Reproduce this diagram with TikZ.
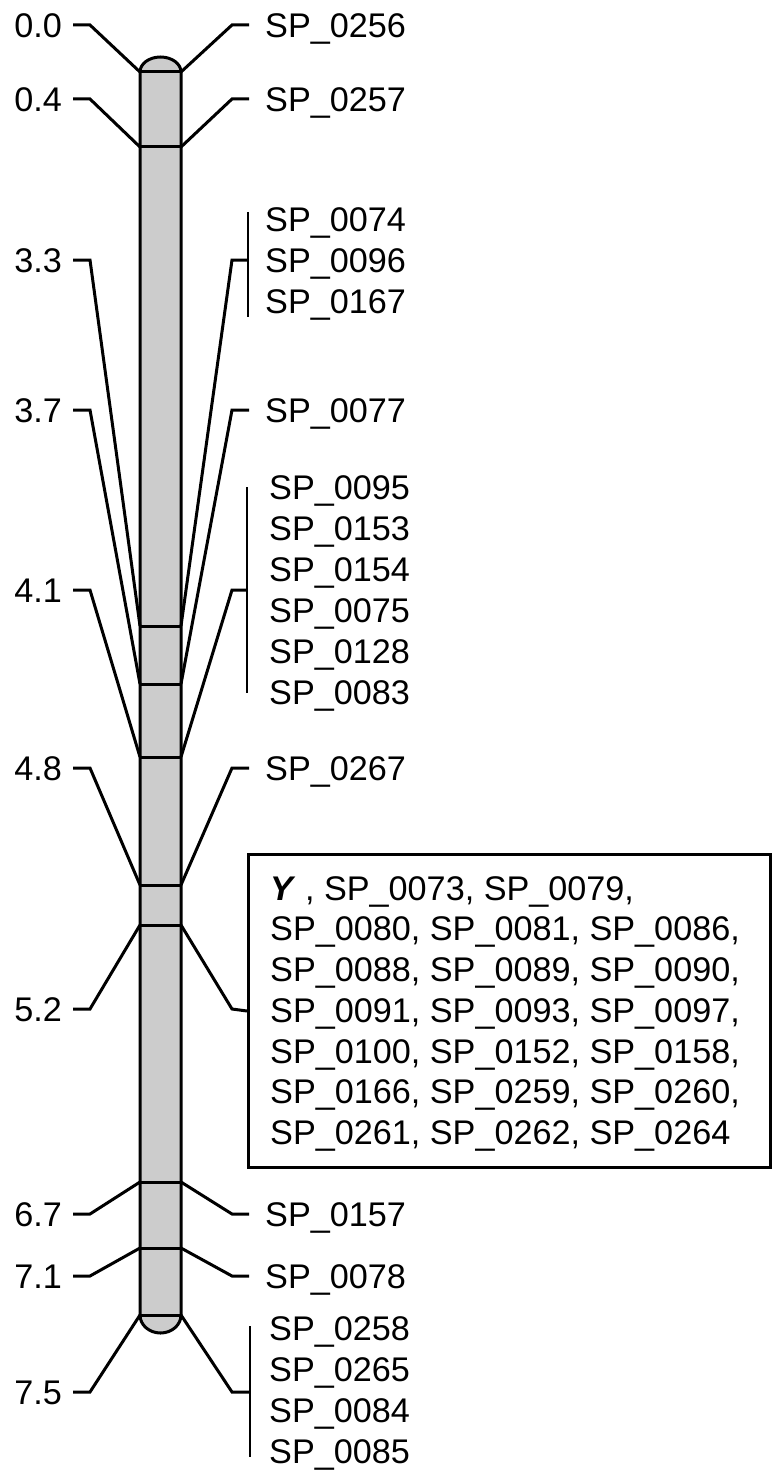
\documentclass[tikz,border=0pt]{standalone}
\usepackage{fontspec}
\newfontfamily\lbfont{Liberation Sans}
\begin{document}
\begin{tikzpicture}[x=1pt,y=-1pt,
  lead/.style={line width=3pt},
  brk/.style={line width=2.4pt},
  band/.style={line width=3pt},
  lbl/.style={font=\lbfont\fontsize{34.2}{40}\selectfont, inner sep=0pt,
              text height=24.5pt, text depth=0pt}]
\useasboundingbox (0,0) rectangle (771,1471);

% chromosome body with rounded ends
\filldraw[fill=black!20, draw=black, line width=3pt]
  (140,1315) -- (140,72)
  arc[start angle=180, end angle=0, x radius=20.5pt, y radius=15pt]
  -- (181,1315)
  arc[start angle=0, end angle=-180, x radius=20.5pt, y radius=18pt]
  -- cycle;

% loci on the chromosome
\foreach \i/\y in {0/72,1/147,2/626,3/684,4/757,5/885,6/925,7/1182,8/1248,9/1315} {
  \coordinate (L\i) at (140,\y);
  \coordinate (R\i) at (181,\y);
  \draw[band] (L\i) -- (R\i);
}

% map positions (left)
\foreach \i/\t/\y in {0/0.0/25, 1/0.4/99, 2/3.3/260, 3/3.7/410, 4/4.1/590,
                      5/4.8/768, 6/5.2/1009, 7/6.7/1214, 8/7.1/1276, 9/7.5/1392} {
  \node[lbl, anchor=east] (p\i) at (62,\y) {\t};
  \draw[lead] ([xshift=11pt]p\i.east) -- ++(17,0) -- (L\i);
}

% single markers (right)
\foreach \i/\t/\y in {0/SP\_0256/25, 1/SP\_0257/99, 3/SP\_0077/410,
                      5/SP\_0267/768, 7/SP\_0157/1214, 8/SP\_0078/1276} {
  \node[lbl, anchor=west] (m\i) at (265,\y) {\t};
  \draw[lead] (R\i) -- ([xshift=-33pt]m\i.west) -- ([xshift=-16pt]m\i.west);
}

% marker group at 3.3
\node[lbl, anchor=west] (g1a) at (265,219) {SP\_0074};
\node[lbl, anchor=west] (g1b) at (265,260) {SP\_0096};
\node[lbl, anchor=west] (g1c) at (265,301) {SP\_0167};
\coordinate (b1t) at (248,212);
\coordinate (b1b) at (248,317);
\draw[brk] (b1t) -- (b1b);
\draw[lead] (R2) -- (232,260) -- (b1t |- g1b.west);

% marker group at 4.1
\foreach \j/\t [count=\k from 0] in {a/SP\_0095, b/SP\_0153, c/SP\_0154,
                                      d/SP\_0075, e/SP\_0128, f/SP\_0083} {
  \node[lbl, anchor=west] (g2\j) at (269,487.5+41*\k) {\t};
}
\coordinate (b2t) at (247,487);
\coordinate (b2b) at (247,693);
\draw[brk] (b2t) -- (b2b);
\draw[lead] (R4) -- (232,590) -- (247,590);

% marker group at 7.5
\foreach \j/\t [count=\k from 0] in {a/SP\_0258, b/SP\_0265, c/SP\_0084, d/SP\_0085} {
  \node[lbl, anchor=west] (g3\j) at (269,1328.5+41*\k) {\t};
}
\coordinate (b3t) at (250,1326);
\coordinate (b3b) at (250,1457);
\draw[brk] (b3t) -- (b3b);
\draw[lead] (R9) -- (232,1392) -- (250,1392);

% boxed cluster at 5.2
\node[draw, line width=3pt, inner sep=0pt, anchor=north west,
      minimum width=522pt, minimum height=313pt] (box) at (247,853) {};
\foreach \t [count=\k from 0] in {
    {\textbf{\textit{Y}} , SP\_0073, SP\_0079,},
    {SP\_0080, SP\_0081, SP\_0086,},
    {SP\_0088, SP\_0089, SP\_0090,},
    {SP\_0091, SP\_0093, SP\_0097,},
    {SP\_0100, SP\_0152, SP\_0158,},
    {SP\_0166, SP\_0259, SP\_0260,},
    {SP\_0261, SP\_0262, SP\_0264}} {
  \node[lbl, anchor=west] (c\k) at (270,888+40.7*\k) {\t};
}
\draw[lead] (R6) -- (232,1009) -- (box.west);
\end{tikzpicture}
\end{document}
